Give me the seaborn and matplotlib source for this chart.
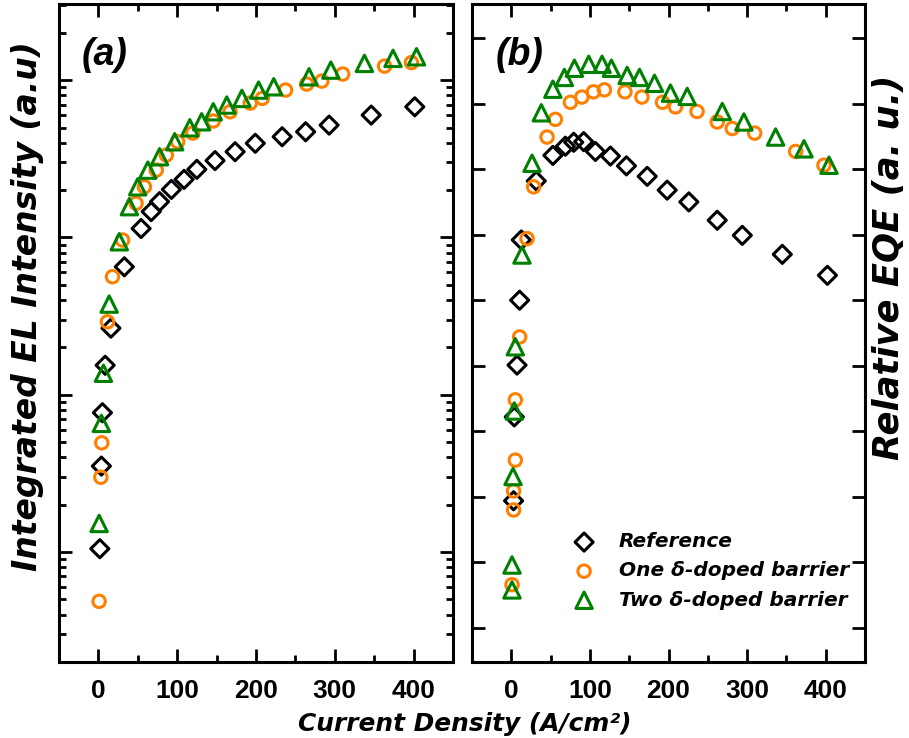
import matplotlib
matplotlib.use("Agg")
import matplotlib.pyplot as plt
import seaborn as sns
import pandas as pd
from matplotlib.ticker import LogLocator, MultipleLocator, NullFormatter

# ---------------- data ----------------
series_labels = ["Reference", "One δ-doped barrier", "Two δ-doped barrier"]

# Panel (a): integrated EL intensity (log scale, arbitrary units)
a_ref_x = [1.8, 3.8, 5.1, 8.6, 15.9, 32.9, 54.2, 67.0, 77.6, 92.6, 108.7, 124.9, 148.0, 173.5, 199.1, 233.2, 263.0, 292.8, 346.2, 401.5]
a_ref_y = [1.05, 3.52, 7.69, 15.4, 26.5, 65.1, 114, 146, 169, 202, 234, 271, 308, 351, 397, 437, 470, 518, 600, 677]

a_one_x = [0.9, 3.1, 4.3, 11.5, 17.9, 30.7, 47.8, 58.4, 73.4, 86.2, 100.6, 119.8, 145.8, 167.1, 192.7, 208.0, 237.5, 264.3, 283.5, 310.0, 363.2, 397.3]
a_one_y = [0.486, 2.99, 4.95, 29.1, 56.3, 96.3, 165, 210, 268, 334, 406, 461, 550, 630, 715, 766, 865, 945, 987, 1094, 1229, 1294]

a_two_x = [0.9, 3.8, 6.4, 13.7, 26.5, 39.3, 49.9, 62.7, 77.6, 96.8, 116.0, 131.0, 145.8, 162.9, 182.1, 203.3, 222.5, 267.3, 295.0, 337.6, 373.9, 403.7]
a_two_y = [1.52, 6.58, 13.7, 37.7, 93.9, 157, 210, 268, 326, 406, 498, 544, 630, 695, 766, 865, 908, 1051, 1159, 1279, 1376, 1409]

# Panel (b): relative EQE (linear, arbitrary units)
b_ref_x = [2.9, 3.8, 7.3, 10.6, 12.7, 31.8, 52.9, 68.8, 79.4, 92.1, 107.0, 126.1, 146.5, 172.9, 198.3, 225.9, 262.0, 293.9, 344.8, 402.2]
b_ref_y = [0.294, 0.422, 0.501, 0.600, 0.692, 0.782, 0.821, 0.835, 0.841, 0.842, 0.827, 0.820, 0.805, 0.789, 0.768, 0.750, 0.722, 0.699, 0.670, 0.638]

b_one_x = [0.9, 2.9, 2.9, 5.1, 5.1, 10.6, 20.0, 28.4, 45.5, 56.1, 75.2, 89.8, 104.5, 118.5, 144.6, 166.2, 192.4, 208.9, 236.3, 262.0, 281.1, 309.6, 361.8, 397.8]
b_one_y = [0.166, 0.280, 0.309, 0.356, 0.448, 0.544, 0.694, 0.773, 0.849, 0.876, 0.902, 0.910, 0.918, 0.921, 0.918, 0.910, 0.902, 0.895, 0.888, 0.872, 0.862, 0.855, 0.827, 0.806]

b_two_x = [0.9, 0.9, 2.2, 3.8, 5.1, 13.6, 26.4, 38.2, 52.9, 67.5, 80.3, 98.5, 115.5, 127.4, 147.4, 163.1, 182.2, 202.5, 223.8, 268.4, 295.9, 336.3, 372.4, 404.2]
b_two_y = [0.158, 0.196, 0.331, 0.431, 0.529, 0.669, 0.809, 0.886, 0.922, 0.940, 0.954, 0.960, 0.960, 0.954, 0.943, 0.940, 0.931, 0.916, 0.911, 0.888, 0.872, 0.849, 0.831, 0.806]

x_ticks = [0, 100, 200, 300, 400]

# ---------------- style ----------------
sns.set_theme(style="ticks")
plt.rcParams["font.family"] = ["Liberation Sans", "DejaVu Sans"]
plt.rcParams["font.weight"] = "bold"
plt.rcParams["text.color"] = "black"
plt.rcParams["axes.labelcolor"] = "black"
plt.rcParams["xtick.color"] = "black"
plt.rcParams["ytick.color"] = "black"
plt.rcParams["axes.edgecolor"] = "black"

WIDE = ["DejaVu Sans"]

colors = ["#000000", "#FF8000", "#008000"]
markers = ["D", "o", "^"]
sizes = [85, 80, 140]
LW = 2.2

fig = plt.figure(figsize=(9.09, 7.38), dpi=100)
axA = fig.add_axes([59 / 909, 76 / 738, 394 / 909, 658 / 738])
axB = fig.add_axes([472 / 909, 76 / 738, 393 / 909, 658 / 738])

panel_a = [(a_ref_x, a_ref_y), (a_one_x, a_one_y), (a_two_x, a_two_y)]
panel_b = [(b_ref_x, b_ref_y), (b_one_x, b_one_y), (b_two_x, b_two_y)]

for ax, panel in ((axA, panel_a), (axB, panel_b)):
    for (xs, ys), lab, c, m, s in zip(panel, series_labels, colors, markers, sizes):
        df = pd.DataFrame({"J": xs, "V": ys})
        sns.scatterplot(data=df, x="J", y="V", ax=ax, marker=m, s=s,
                        facecolors="none", edgecolor=c, linewidth=LW,
                        label=lab, legend=False, zorder=3)

for ax in (axA, axB):
    ax.set_xlim(-50, 450)
    ax.set_xticks(x_ticks)
    ax.xaxis.set_minor_locator(MultipleLocator(50))
    ax.set_xlabel("")
    ax.set_ylabel("")
    for sp in ax.spines.values():
        sp.set_linewidth(LW)
        sp.set_color("black")
    ax.tick_params(which="both", direction="in", top=True, right=True,
                   width=2.0, color="black")
    ax.tick_params(which="major", length=9.5)
    ax.tick_params(which="minor", length=5)
    ax.tick_params(axis="x", labelsize=19, pad=12, labelcolor="black")
    for lbl in ax.get_xticklabels():
        lbl.set_fontweight("bold")

# panel (a) log axis without labels
axA.set_yscale("log")
axA.set_ylim(0.2, 3050)
axA.yaxis.set_major_locator(LogLocator(base=10))
axA.yaxis.set_minor_locator(LogLocator(base=10, subs=range(2, 10)))
axA.yaxis.set_major_formatter(NullFormatter())
axA.yaxis.set_minor_formatter(NullFormatter())

# panel (b) linear axis without labels
axB.set_ylim(0.048, 1.052)
axB.yaxis.set_major_locator(MultipleLocator(0.1))
axB.yaxis.set_major_formatter(NullFormatter())
axB.tick_params(axis="y", which="minor", left=False, right=False)

# legend
axB.legend(loc="upper left", bbox_to_anchor=(0.234, 0.197), frameon=False,
           borderpad=0, borderaxespad=0, handlelength=2.0, handletextpad=0.73,
           labelspacing=0.5, scatterpoints=1,
           prop={"family": WIDE, "size": 14.5, "weight": "bold", "style": "italic"})

# texts
fig.text(105 / 909, 1 - 55 / 738, "(a)", ha="center", va="center",
         fontsize=27, fontweight="bold", fontstyle="italic")
fig.text(520 / 909, 1 - 55 / 738, "(b)", ha="center", va="center",
         fontsize=27, fontweight="bold", fontstyle="italic")
fig.text(28 / 909, 1 - 306 / 738, "Integrated EL Intensity (a.u)", rotation=90,
         ha="center", va="center", fontsize=23.8, fontweight="bold",
         fontstyle="italic", family=WIDE)
fig.text(889 / 909, 1 - 267 / 738, "Relative EQE (a. u.)", rotation=90,
         ha="center", va="center", fontsize=25.5, fontweight="bold",
         fontstyle="italic", family=WIDE)
fig.text(465 / 909, 1 - 731.5 / 738, "Current Density (A/cm²)",
         ha="center", va="baseline", fontsize=17.9, fontweight="bold",
         fontstyle="italic", family=WIDE)

fig.savefig("out.png", dpi=100)
